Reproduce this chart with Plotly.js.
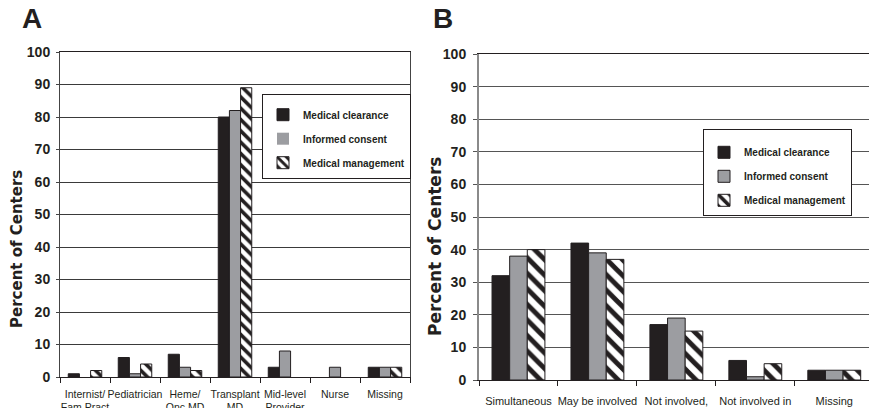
<!DOCTYPE html>
<html>
<head>
<meta charset="utf-8">
<script src="https://cdn.plot.ly/plotly-3.0.1.min.js"></script>
<style>html,body{margin:0;padding:0;background:#fff;overflow:hidden}#chart{width:869px;height:408px}</style>
</head>
<body>
<div id="chart"></div>
<script>
// Panel A data
const catsA = ["Internist/<br>Fam Pract", "Pediatrician", "Heme/<br>Onc MD", "Transplant<br>MD", "Mid-level<br>Provider", "Nurse", "Missing"];
const clearanceA = [1, 6, 7, 80, 3, 0, 3];
const consentA = [0, 1, 3, 82, 8, 3, 3];
const managementA = [2, 4, 2, 89, 0, 0, 3];

// Panel B data
const catsB = ["Simultaneous", "May be involved", "Not involved,", "Not involved in", "Missing"];
const clearanceB = [32, 42, 17, 6, 3];
const consentB = [38, 39, 19, 1, 3];
const managementB = [40, 37, 15, 5, 3];

const seriesNames = ["Medical clearance", "Informed consent", "Medical management"];

const W = 869, H = 408;
const BLACK = "#231f20", GRAY = "#9c9da1";

function bars(x, y, name, idx, xa, ya, leg, patSize) {
  const m = {line: {color: BLACK, width: y.map(v => v === 0 ? 0 : 1)}};
  if (idx === 0) m.color = BLACK;
  else if (idx === 1) m.color = GRAY;
  else {
    m.color = "#ffffff";
    m.pattern = {shape: "\\", fgcolor: BLACK, bgcolor: "#ffffff", size: patSize, solidity: 0.45, fillmode: "replace"};
  }
  return {type: "bar", x: x, y: y, name: name, marker: m, xaxis: xa, yaxis: ya,
          legend: leg, legendgroup: leg + idx, hoverinfo: "skip"};
}

const data = [
  bars(catsA, clearanceA, seriesNames[0], 0, "x", "y", "legend", 8),
  bars(catsA, consentA, seriesNames[1], 1, "x", "y", "legend", 8),
  bars(catsA, managementA, seriesNames[2], 2, "x", "y", "legend", 8),
  bars(catsB, clearanceB, seriesNames[0], 0, "x2", "y2", "legend2", 11),
  bars(catsB, consentB, seriesNames[1], 1, "x2", "y2", "legend2", 11),
  bars(catsB, managementB, seriesNames[2], 2, "x2", "y2", "legend2", 11)
];

const tickFontY = {family: "Liberation Sans Narrow, Liberation Sans, Arial, sans-serif", size: 14, weight: "bold", color: "#231f20"};
const tickFontXA = {family: "Liberation Sans Narrow, Liberation Sans, Arial, sans-serif", size: 10.5, color: "#231f20"};
const tickFontXB = {family: "Liberation Sans Narrow, Liberation Sans, Arial, sans-serif", size: 11, color: "#231f20"};
const legFont = {family: "Liberation Sans, Arial, sans-serif", size: 10, weight: "bold", color: "#231f20"};

const px = v => v / W, py = v => 1 - v / H;

const layout = {
  width: W, height: H,
  margin: {l: 0, r: 0, t: 0, b: 0},
  paper_bgcolor: "#fff", plot_bgcolor: "#fff",
  barmode: "group", bargap: 0.33, bargroupgap: 0,
  showlegend: true,
  xaxis: {domain: [px(60), px(410)], anchor: "y", type: "category",
          showline: true, linecolor: "#231f20", linewidth: 1, mirror: true,
          ticks: "outside", tickson: "boundaries", ticklen: 5, tickcolor: "#231f20",
          tickangle: 0, tickfont: tickFontXA, ticklabelstandoff: 7, showgrid: false, fixedrange: true},
  yaxis: {domain: [py(377), py(52)], anchor: "x", range: [0, 100], dtick: 10,
          showline: true, linecolor: "#444", linewidth: 1, mirror: true,
          ticks: "outside", ticklen: 3, tickcolor: "#444",
          showgrid: true, gridcolor: "#3a3a3a", gridwidth: 1, zeroline: false,
          tickfont: tickFontY, ticklabelstandoff: 3, fixedrange: true},
  xaxis2: {domain: [px(479), 1], anchor: "y2", type: "category", range: [-0.5, 4.44],
          showline: true, linecolor: "#231f20", linewidth: 1, mirror: true,
          ticks: "outside", tickson: "boundaries", ticklen: 5, tickcolor: "#231f20",
          tickangle: 0, tickfont: tickFontXB, ticklabelstandoff: 11, showgrid: false, fixedrange: true},
  yaxis2: {domain: [py(380), py(54)], anchor: "x2", range: [0, 100], dtick: 10,
          showline: true, linecolor: "#8a8a8a", linewidth: 2, mirror: false,
          ticks: "outside", ticklen: 4, tickcolor: "#555",
          showgrid: true, gridcolor: "#555", gridwidth: 1, zeroline: false,
          tickfont: tickFontY, ticklabelstandoff: 4, fixedrange: true},
  legend: {x: px(262), y: py(94), xanchor: "left", yanchor: "top",
           bgcolor: "#fff", bordercolor: "#231f20", borderwidth: 1,
           title: {text: " ", font: {size: 4}},
           font: legFont, traceorder: "grouped", tracegroupgap: 5, itemwidth: 30},
  legend2: {x: px(703), y: py(129), xanchor: "left", yanchor: "top",
           bgcolor: "#fff", bordercolor: "#231f20", borderwidth: 1,
           title: {text: " ", font: {size: 6}},
           font: legFont, traceorder: "grouped", tracegroupgap: 5, itemwidth: 30},
  annotations: [
    {text: "A", xref: "paper", yref: "paper", x: px(20), y: py(36), xanchor: "left", yanchor: "bottom",
     showarrow: false, font: {family: "Liberation Sans, Arial, sans-serif", size: 28, weight: "bold", color: "#231f20"}},
    {text: "B", xref: "paper", yref: "paper", x: px(431), y: py(36), xanchor: "left", yanchor: "bottom",
     showarrow: false, font: {family: "Liberation Sans, Arial, sans-serif", size: 28, weight: "bold", color: "#231f20"}},
    {text: "Percent of Centers", xref: "paper", yref: "paper", x: px(17), y: py(249), textangle: -90,
     xanchor: "center", yanchor: "middle", showarrow: false,
     font: {family: "DejaVu Sans, Verdana, sans-serif", size: 15, weight: "bold", color: "#231f20"}},
    {text: "Percent of Centers", xref: "paper", yref: "paper", x: px(435), y: py(247), textangle: -90,
     xanchor: "center", yanchor: "middle", showarrow: false,
     font: {family: "DejaVu Sans, Verdana, sans-serif", size: 17, weight: "bold", color: "#231f20"}}
  ]
};

Plotly.newPlot("chart", data, layout, {staticPlot: true, displayModeBar: false});
</script>
</body>
</html>
